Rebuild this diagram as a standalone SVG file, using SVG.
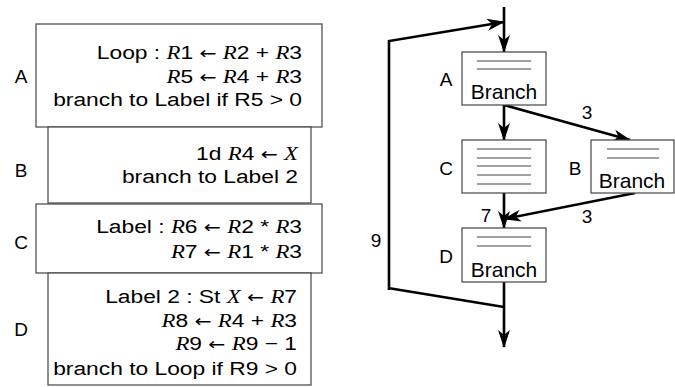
<svg xmlns="http://www.w3.org/2000/svg" width="675" height="387" viewBox="0 0 675 387">
<defs>
<style>
.t{font-family:"Liberation Sans","DejaVu Sans",sans-serif;font-size:19px;fill:#000}
.e{text-anchor:end}
.m{font-family:"Liberation Serif","DejaVu Serif",serif;font-style:italic}
.a{font-family:"DejaVu Sans",sans-serif;font-size:17px}
.box{fill:#fff;stroke:#444;stroke-width:1.2}
.in{stroke:#444;stroke-width:1.2}
.c{fill:none;stroke:#000;stroke-width:2.6}
.lb{font-family:"Liberation Sans","DejaVu Sans",sans-serif;font-size:19px;fill:#000;text-anchor:middle}
.br{font-family:"Liberation Sans","DejaVu Sans",sans-serif;font-size:21px;fill:#000;text-anchor:middle}
</style>
<marker id="ah" markerUnits="userSpaceOnUse" viewBox="0 0 18 12" markerWidth="18" markerHeight="12" refX="17" refY="6" orient="auto">
<path d="M0,0 L18,6 L0,12 L5,6 z" fill="#000"/>
</marker>
</defs>
<g id="code">
<g id="codeA">
<rect class="box" x="36" y="24" width="286" height="103"/>
<text class="lb" x="21" y="83">A</text>
<g transform="translate(302 0) scale(1.2 1)">
<text class="t e" x="0" y="59">Loop : <tspan class="m">R</tspan>1 <tspan class="a">←</tspan> <tspan class="m">R</tspan>2 + <tspan class="m">R</tspan>3</text>
<text class="t e" x="0" y="83"><tspan class="m">R</tspan>5 <tspan class="a">←</tspan> <tspan class="m">R</tspan>4 + <tspan class="m">R</tspan>3</text>
<text class="t e" x="0" y="106">branch to Label if R5 &gt; 0</text>
</g>
</g>
<g id="codeB">
<rect class="box" x="48" y="127" width="263" height="76"/>
<text class="lb" x="21" y="177">B</text>
<g transform="translate(298 0) scale(1.2 1)">
<text class="t e" x="0" y="160">1d <tspan class="m">R</tspan>4 <tspan class="a">←</tspan> <tspan class="m">X</tspan></text>
<text class="t e" x="0" y="183">branch to Label 2</text>
</g>
</g>
<g id="codeC">
<rect class="box" x="36" y="204" width="286" height="69"/>
<text class="lb" x="21" y="249">C</text>
<g transform="translate(302 0) scale(1.2 1)">
<text class="t e" x="0" y="233">Label : <tspan class="m">R</tspan>6 <tspan class="a">←</tspan> <tspan class="m">R</tspan>2 * <tspan class="m">R</tspan>3</text>
<text class="t e" x="0" y="258"><tspan class="m">R</tspan>7 <tspan class="a">←</tspan> <tspan class="m">R</tspan>1 * <tspan class="m">R</tspan>3</text>
</g>
</g>
<g id="codeD">
<rect class="box" x="48" y="273" width="263" height="112"/>
<text class="lb" x="21" y="336">D</text>
<g transform="translate(297 0) scale(1.2 1)">
<text class="t e" x="0" y="303">Label 2 : St <tspan class="m">X</tspan> <tspan class="a">←</tspan> <tspan class="m">R</tspan>7</text>
<text class="t e" x="0" y="327"><tspan class="m">R</tspan>8 <tspan class="a">←</tspan> <tspan class="m">R</tspan>4 + <tspan class="m">R</tspan>3</text>
<text class="t e" x="0" y="350"><tspan class="m">R</tspan>9 <tspan class="a">←</tspan> <tspan class="m">R</tspan>9 − 1</text>
<text class="t e" x="0" y="375">branch to Loop if R9 &gt; 0</text>
</g>
</g>
</g>
<g id="connectors">
<path class="c" d="M504,7 V52" marker-end="url(#ah)"/>
<path class="c" d="M389,290 V41 L504,22" marker-end="url(#ah)"/>
<path class="c" d="M504,105 V140" marker-end="url(#ah)"/>
<path class="c" d="M504,105 L630,140" marker-end="url(#ah)"/>
<path class="c" d="M504,193 V228" marker-end="url(#ah)"/>
<path class="c" d="M635,193 L504,219" marker-end="url(#ah)"/>
<path class="c" d="M388,288 L504,307"/>
<path class="c" d="M504,282 V347" marker-end="url(#ah)"/>
<text class="lb" x="587" y="119">3</text>
<text class="lb" x="587" y="223">3</text>
<text class="lb" x="486" y="222">7</text>
<text class="lb" x="376" y="247">9</text>
</g>
<g id="nodeA">
<rect class="box" x="462" y="52" width="84" height="53"/>
<line class="in" x1="477" y1="61" x2="531" y2="61"/>
<line class="in" x1="477" y1="69" x2="531" y2="69"/>
<text class="br" x="504" y="99">Branch</text>
<text class="lb" x="446" y="86">A</text>
</g>
<g id="nodeC">
<rect class="box" x="462" y="140" width="84" height="53"/>
<line class="in" x1="477" y1="149" x2="531" y2="149"/>
<line class="in" x1="477" y1="158" x2="531" y2="158"/>
<line class="in" x1="477" y1="166" x2="531" y2="166"/>
<line class="in" x1="477" y1="175" x2="531" y2="175"/>
<line class="in" x1="477" y1="184" x2="531" y2="184"/>
<text class="lb" x="446" y="175">C</text>
</g>
<g id="nodeB">
<rect class="box" x="591" y="140" width="83" height="53"/>
<line class="in" x1="607" y1="149" x2="659" y2="149"/>
<line class="in" x1="607" y1="158" x2="659" y2="158"/>
<text class="br" x="632" y="188">Branch</text>
<text class="lb" x="575" y="175">B</text>
</g>
<g id="nodeD">
<rect class="box" x="462" y="228" width="84" height="54"/>
<line class="in" x1="477" y1="237" x2="531" y2="237"/>
<line class="in" x1="477" y1="246" x2="531" y2="246"/>
<text class="br" x="504" y="277">Branch</text>
<text class="lb" x="446" y="263">D</text>
</g>
</svg>
